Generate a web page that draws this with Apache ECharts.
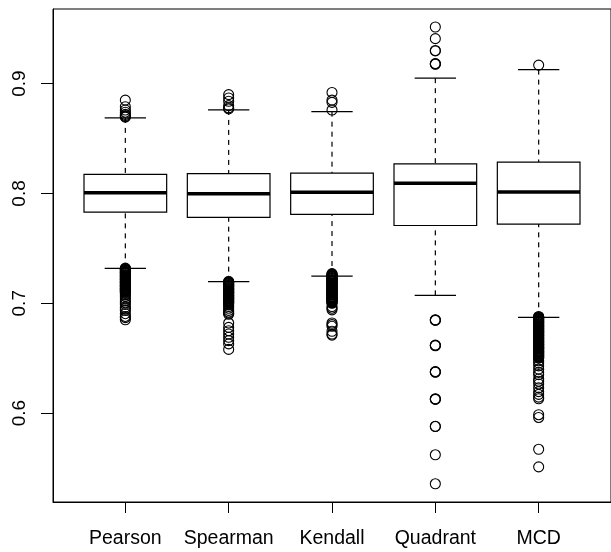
<!DOCTYPE html>
<html>
<head>
<meta charset="utf-8">
<script src="https://cdn.jsdelivr.net/npm/echarts@6/dist/echarts.min.js"></script>
<style>
html,body{margin:0;padding:0;background:#fff;}
#main{width:611px;height:552px;}
</style>
</head>
<body>
<div id="main"></div>
<script>
// Categories and tick labels
var categories = ['Pearson', 'Spearman', 'Kendall', 'Quadrant', 'MCD'];
var yTicks = [0.6, 0.7, 0.8, 0.9];

// Box statistics: [lower whisker, Q1, median, Q3, upper whisker]
var pearsonStats  = [0.7318, 0.7830, 0.8006, 0.8173, 0.8688];
var spearmanStats = [0.7197, 0.7782, 0.7997, 0.8180, 0.8761];
var kendallStats  = [0.7248, 0.7810, 0.8010, 0.8186, 0.8745];
var quadrantStats = [0.7072, 0.7708, 0.8093, 0.8270, 0.9050];
var mcdStats      = [0.6872, 0.7721, 0.8013, 0.8286, 0.9128];

// Outliers
var pearsonOut = [0.885, 0.879, 0.876, 0.874, 0.872, 0.871, 0.870, 0.8695,
  0.732, 0.7315, 0.731, 0.7305, 0.7302, 0.7296, 0.729, 0.7284, 0.728, 0.7276, 0.7273, 0.7266,
  0.726, 0.7255, 0.725, 0.7247, 0.7243, 0.7236, 0.723, 0.7225, 0.722, 0.7216, 0.7212, 0.7205,
  0.720, 0.7194, 0.719, 0.7186, 0.7183, 0.7176, 0.717, 0.7165, 0.716, 0.7157, 0.7152, 0.7145,
  0.714, 0.7135, 0.713, 0.7126, 0.7121, 0.7115, 0.711, 0.7104, 0.710, 0.709, 0.7075,
  0.706, 0.704, 0.702, 0.7005, 0.699, 0.6965, 0.695, 0.6935, 0.6905, 0.688, 0.6869, 0.685];
var spearmanOut = [0.890, 0.887, 0.884, 0.880, 0.878, 0.877,
  0.720, 0.7195, 0.719, 0.7186, 0.7182, 0.7176, 0.717, 0.7164, 0.716, 0.7157, 0.7153, 0.7146,
  0.714, 0.7134, 0.713, 0.7126, 0.7122, 0.7116, 0.711, 0.7105, 0.710, 0.7097, 0.7093, 0.7086,
  0.708, 0.7074, 0.707, 0.7066, 0.7062, 0.7055, 0.705, 0.7045, 0.704, 0.7036, 0.7032, 0.7025,
  0.702, 0.7014, 0.701, 0.7004, 0.700, 0.6985, 0.697, 0.6955,
  0.6935, 0.692, 0.691, 0.690, 0.682, 0.678, 0.675, 0.672, 0.669, 0.666, 0.663, 0.658];
var kendallOut = [0.892, 0.885, 0.883, 0.876,
  0.727, 0.7265, 0.726, 0.7256, 0.7252, 0.7245, 0.724, 0.7235, 0.723, 0.7226, 0.7223, 0.7215,
  0.721, 0.7204, 0.720, 0.7197, 0.7193, 0.7186, 0.718, 0.7175, 0.717, 0.7166, 0.7162, 0.7155,
  0.715, 0.7144, 0.714, 0.7136, 0.7132, 0.7125, 0.712, 0.7115, 0.711, 0.7106, 0.7102, 0.7095,
  0.709, 0.7084, 0.708, 0.7077, 0.7073, 0.7066, 0.706, 0.7055, 0.705, 0.7046, 0.7042, 0.7035,
  0.703, 0.7024, 0.702, 0.7015, 0.701, 0.7005, 0.700, 0.697, 0.6955, 0.694,
  0.682, 0.6805, 0.679, 0.6745, 0.672, 0.671];
var quadrantOut = [0.9516, 0.941, 0.9298, 0.9302, 0.918, 0.9183, 0.9177,
  0.6847, 0.6850, 0.6844, 0.6616, 0.6619, 0.6613, 0.6375, 0.6378, 0.6372,
  0.6127, 0.6130, 0.6124, 0.5877, 0.5880, 0.5620, 0.5356];
var mcdOut = [0.9169,
  0.688, 0.6875, 0.687, 0.6865, 0.686, 0.6856, 0.6852, 0.6846, 0.684, 0.6835, 0.683, 0.6826,
  0.6822, 0.6815, 0.681, 0.6804, 0.680, 0.6795, 0.6791, 0.6786, 0.678, 0.6775, 0.677, 0.6766,
  0.6762, 0.6755, 0.675, 0.6745, 0.674, 0.6737, 0.6733, 0.6726, 0.672, 0.6715, 0.671, 0.6706,
  0.6702, 0.6695, 0.669, 0.6685, 0.668, 0.6676, 0.6671, 0.6665, 0.666, 0.6655, 0.665, 0.6646,
  0.6642, 0.6636, 0.663, 0.6625, 0.662, 0.6616, 0.6611, 0.6605, 0.660, 0.6595, 0.659, 0.6587,
  0.6583, 0.6576, 0.657, 0.6565, 0.656, 0.6556, 0.6552, 0.6546, 0.654, 0.6535, 0.653, 0.6526,
  0.6521, 0.6515, 0.651, 0.6504, 0.650, 0.6475, 0.6455, 0.643, 0.640, 0.637, 0.635, 0.631,
  0.629, 0.6265, 0.623, 0.6195, 0.617, 0.6145, 0.613, 0.5985, 0.596, 0.567, 0.551];

var allStats = [pearsonStats, spearmanStats, kendallStats, quadrantStats, mcdStats];
var allOut = [pearsonOut, spearmanOut, kendallOut, quadrantOut, mcdOut];

var boxData = allStats.map(function (s, i) { return [i + 1].concat(s); });
var outData = [];
allOut.forEach(function (arr, i) {
  arr.forEach(function (v) { outData.push([i + 1, v]); });
});

var FONT = '"Liberation Sans", Arial, Helvetica, sans-serif';

var chart = echarts.init(document.getElementById('main'), null, {renderer: 'canvas'});
chart.setOption({
  backgroundColor: '#fff',
  animation: false,
  grid: {
    left: 53, right: -9.5, top: 9, bottom: 50,
    show: true, borderColor: '#000', borderWidth: 1, backgroundColor: 'transparent'
  },
  xAxis: {
    type: 'value', min: 0.3, max: 5.7,
    splitLine: {show: false},
    axisLine: {show: true, lineStyle: {color: '#000', width: 1}},
    axisTick: {show: true, length: 11, lineStyle: {color: '#000'}, customValues: [1, 2, 3, 4, 5]},
    axisLabel: {
      customValues: [1, 2, 3, 4, 5],
      formatter: function (v) { return categories[Math.round(v) - 1]; },
      color: '#000', fontSize: 19.5, fontFamily: FONT, margin: 27
    }
  },
  yAxis: {
    type: 'value', min: 0.519, max: 0.968,
    splitLine: {show: false},
    axisLine: {show: true, lineStyle: {color: '#000', width: 1}},
    axisTick: {show: true, length: 12, lineStyle: {color: '#000'}, customValues: yTicks},
    axisLabel: {
      customValues: yTicks,
      formatter: function (v) { return v.toFixed(1); },
      rotate: 90, color: '#000', fontSize: 19, fontFamily: FONT, margin: 24
    }
  },
  series: [
    {
      type: 'custom',
      data: boxData,
      encode: {x: 0, y: [1, 2, 3, 4, 5]},
      renderItem: function (params, api) {
        var x = api.value(0);
        var lo = api.coord([x, api.value(1)])[1];
        var q1 = api.coord([x, api.value(2)])[1];
        var md = api.coord([x, api.value(3)])[1];
        var q3 = api.coord([x, api.value(4)])[1];
        var hi = api.coord([x, api.value(5)])[1];
        var cx = api.coord([x, 0.8])[0];
        var bl = api.coord([x - 0.4, 0.8])[0];
        var br = api.coord([x + 0.4, 0.8])[0];
        var sl = api.coord([x - 0.2, 0.8])[0];
        var sr = api.coord([x + 0.2, 0.8])[0];
        var solid = {stroke: '#000', lineWidth: 1.2, fill: null};
        var dashed = {stroke: '#000', lineWidth: 1.2, lineDash: [5, 5], fill: null};
        return {
          type: 'group',
          children: [
            {type: 'line', shape: {x1: cx, y1: lo, x2: cx, y2: q1}, style: dashed},
            {type: 'line', shape: {x1: cx, y1: hi, x2: cx, y2: q3}, style: dashed},
            {type: 'line', shape: {x1: sl, y1: lo, x2: sr, y2: lo}, style: solid},
            {type: 'line', shape: {x1: sl, y1: hi, x2: sr, y2: hi}, style: solid},
            {type: 'rect', shape: {x: bl, y: q3, width: br - bl, height: q1 - q3},
              style: {stroke: '#000', lineWidth: 1.2, fill: '#fff'}},
            {type: 'line', shape: {x1: bl, y1: md, x2: br, y2: md},
              style: {stroke: '#000', lineWidth: 3.5}}
          ]
        };
      },
      z: 2
    },
    {
      type: 'scatter',
      data: outData,
      symbol: 'circle',
      symbolSize: 10,
      itemStyle: {color: 'rgba(0,0,0,0)', borderColor: '#000', borderWidth: 1.1, opacity: 1},
      emphasis: {disabled: true},
      z: 3
    }
  ]
});
</script>
</body>
</html>
